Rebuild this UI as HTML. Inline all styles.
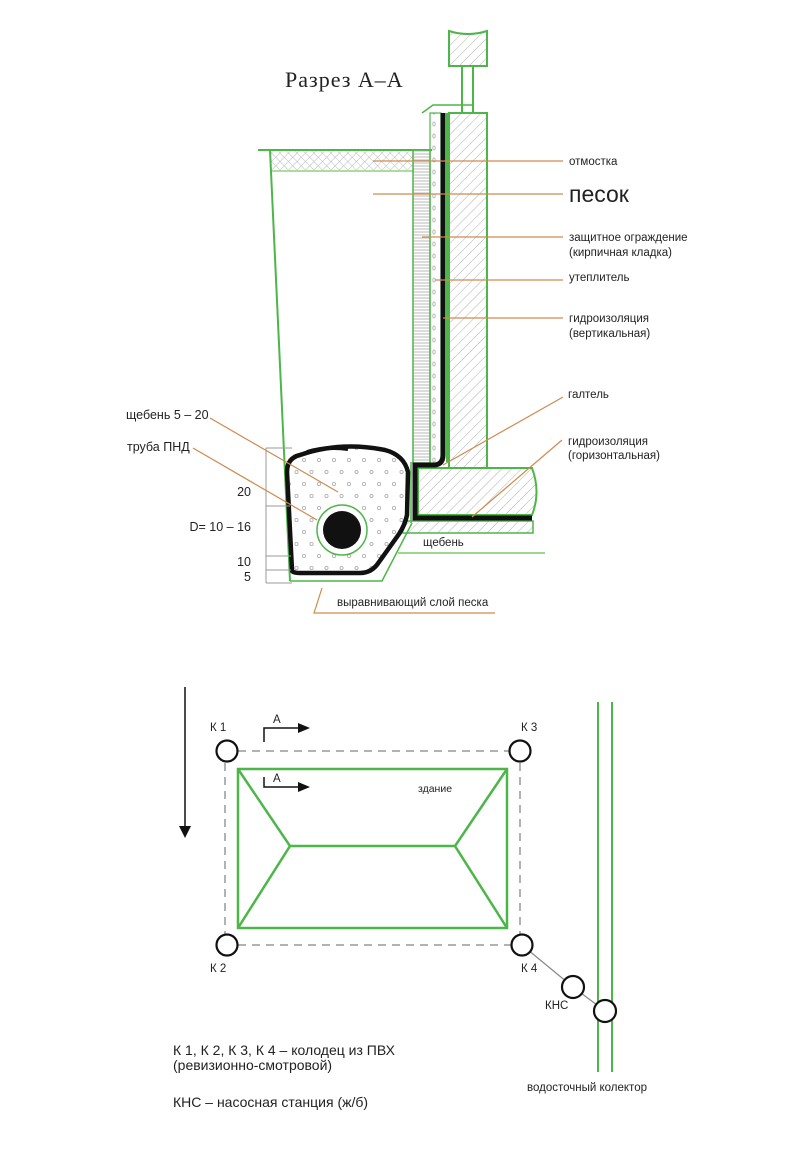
<!DOCTYPE html>
<html><head><meta charset="utf-8"><style>
html,body{margin:0;padding:0;background:#fff;}
svg{display:block;}
text{font-family:"Liberation Sans",sans-serif;fill:#222;}
</style></head><body>
<svg width="800" height="1174" viewBox="0 0 800 1174" xmlns="http://www.w3.org/2000/svg">
<defs>
<pattern id="diag" width="7" height="7" patternUnits="userSpaceOnUse" patternTransform="rotate(45)">
<line x1="0" y1="0" x2="0" y2="7" stroke="#b0b0b0" stroke-width="1"/>
</pattern>
<pattern id="cross" width="6" height="6" patternUnits="userSpaceOnUse" patternTransform="rotate(45)">
<line x1="0" y1="0" x2="0" y2="6" stroke="#bbb" stroke-width="1"/>
<line x1="0" y1="0" x2="6" y2="0" stroke="#bbb" stroke-width="1"/>
</pattern>
<pattern id="horiz" width="6" height="3" patternUnits="userSpaceOnUse">
<line x1="0" y1="1" x2="6" y2="1" stroke="#b8b8b8" stroke-width="1"/>
</pattern>
<pattern id="dots" width="15" height="24" patternUnits="userSpaceOnUse">
<circle cx="4" cy="4" r="1.6" fill="none" stroke="#aaa" stroke-width="0.8"/>
<circle cx="11.5" cy="16" r="1.6" fill="none" stroke="#aaa" stroke-width="0.8"/>
</pattern>
<pattern id="vdots" width="11" height="12" patternUnits="userSpaceOnUse">
<ellipse cx="5" cy="4" rx="1.2" ry="2" fill="none" stroke="#aaa" stroke-width="0.8"/>
</pattern>
</defs>

<!-- Title -->
<text x="285" y="87" style="font-family:'Liberation Serif',serif;font-size:22px;letter-spacing:1px;fill:#222">Разрез А–А</text>

<!-- top block and stems -->
<path d="M449,31 Q468,37 487,31 L487,66 L449,66 Z" fill="url(#diag)" stroke="#4cb648" stroke-width="2"/>
<line x1="462" y1="66" x2="462" y2="113" stroke="#4cb648" stroke-width="2"/>
<line x1="473" y1="66" x2="473" y2="113" stroke="#4cb648" stroke-width="2"/>
<polyline points="422,113 433,105 473,105" fill="none" stroke="#4cb648" stroke-width="1.5"/>

<!-- otmostka -->
<rect x="270" y="151" width="144" height="19" fill="url(#cross)"/>
<line x1="258" y1="150" x2="432" y2="150" stroke="#4cb648" stroke-width="2"/>
<line x1="271" y1="171" x2="414" y2="171" stroke="#8fd27f" stroke-width="1.5"/>

<!-- brick layer -->
<rect x="413" y="150" width="17" height="313" fill="url(#horiz)" stroke="#4cb648" stroke-width="1.5"/>
<!-- insulation dotted layer -->
<rect x="430" y="113" width="11" height="350" fill="url(#vdots)" stroke="#4cb648" stroke-width="1.2"/>
<!-- wall -->
<rect x="449" y="113" width="38" height="355" fill="url(#diag)" stroke="#4cb648" stroke-width="2"/>
<line x1="447" y1="113" x2="447" y2="462" stroke="#4cb648" stroke-width="2"/>

<!-- foundation slab -->
<path d="M418,468 L532,468 Q541,492 532,515 L418,515 Z" fill="url(#diag)" stroke="#4cb648" stroke-width="2"/>
<path d="M407,521 L533,521 L533,533 L402,533 Z" fill="url(#diag)" stroke="#4cb648" stroke-width="1.5"/>
<!-- black waterproofing -->
<path d="M443,113 L443,455 Q443,464 435,465 L415,465 L415,518 L532,518" fill="none" stroke="#111" stroke-width="5"/>
<line x1="411" y1="462" x2="411" y2="523" stroke="#4cb648" stroke-width="1.5"/>

<!-- trench -->
<line x1="270" y1="150" x2="290" y2="581" stroke="#4cb648" stroke-width="2"/>
<polyline points="290,581 382,581 412,523" fill="none" stroke="#4cb648" stroke-width="1.5"/>
<line x1="398" y1="553" x2="545" y2="553" stroke="#7ccc66" stroke-width="1.5"/>

<!-- gravel wrap -->
<path d="M292,570 L287,472 Q287,458 300,455 Q340,441 385,450 Q404,455 408,472 L407,515 Q405,525 399,534 L379,562 Q372,573 360,573 L300,573 Q292,573 292,570 Z" fill="url(#dots)" stroke="#111" stroke-width="4.5"/>
<path d="M307,452 Q327,446 348,449" fill="none" stroke="#111" stroke-width="4"/>
<circle cx="342" cy="530" r="25" fill="#fff" stroke="#4cb648" stroke-width="1.5"/>
<circle cx="342" cy="530" r="19" fill="#111"/>

<!-- dimension lines -->
<g stroke="#999" stroke-width="1">
<line x1="266" y1="448" x2="266" y2="583"/>
<line x1="266" y1="448" x2="292" y2="448"/>
<line x1="266" y1="506" x2="290" y2="506"/>
<line x1="266" y1="556" x2="291" y2="556"/>
<line x1="266" y1="570" x2="291" y2="570"/>
<line x1="266" y1="583" x2="292" y2="583"/>
</g>

<!-- leaders -->
<g stroke="#cf8a4f" stroke-width="1.2" fill="none">
<line x1="373" y1="161" x2="563" y2="161"/>
<line x1="373" y1="194" x2="563" y2="194"/>
<line x1="422" y1="237" x2="563" y2="237"/>
<line x1="435" y1="280" x2="563" y2="280"/>
<line x1="443" y1="318" x2="563" y2="318"/>
<line x1="563" y1="397" x2="443" y2="465"/>
<line x1="562" y1="440" x2="472" y2="517"/>
<line x1="210" y1="418" x2="338" y2="492"/>
<line x1="193" y1="448" x2="317" y2="520"/>
<polyline points="322,588 314,613 495,613"/>
</g>

<!-- right labels -->
<g style="font-size:11.5px">
<text x="569" y="165">отмостка</text>
<text x="569" y="202" style="font-size:23px">песок</text>
<text x="569" y="241">защитное ограждение</text>
<text x="569" y="256">(кирпичная кладка)</text>
<text x="569" y="281">утеплитель</text>
<text x="569" y="322">гидроизоляция</text>
<text x="569" y="337">(вертикальная)</text>
<text x="568" y="398">галтель</text>
<text x="568" y="445">гидроизоляция</text>
<text x="568" y="459">(горизонтальная)</text>
<text x="423" y="546">щебень</text>
<text x="337" y="606">выравнивающий слой песка</text>
</g>
<!-- left labels -->
<g style="font-size:12.5px">
<text x="126" y="419">щебень 5 – 20</text>
<text x="127" y="451">труба ПНД</text>
<text x="251" y="496" text-anchor="end">20</text>
<text x="251" y="531" text-anchor="end">D= 10 – 16</text>
<text x="251" y="566" text-anchor="end">10</text>
<text x="251" y="581" text-anchor="end">5</text>
</g>

<!-- PLAN -->
<line x1="185" y1="687" x2="185" y2="830" stroke="#111" stroke-width="1.5"/>
<polygon points="179,826 191,826 185,838" fill="#111"/>

<g stroke="#999" stroke-width="1.5" stroke-dasharray="8 6" fill="none">
<line x1="238" y1="751" x2="509" y2="751"/>
<line x1="238" y1="945" x2="511" y2="945"/>
<line x1="225" y1="763" x2="225" y2="934"/>
<line x1="520" y1="763" x2="520" y2="934"/>
</g>

<g stroke="#4cb648" stroke-width="2.5" fill="none">
<rect x="238" y="769" width="269" height="159"/>
<polyline points="238,769 290,846 238,928"/>
<polyline points="507,769 455,846 507,928"/>
<line x1="290" y1="846" x2="455" y2="846"/>
</g>

<line x1="522" y1="945" x2="573" y2="987" stroke="#888" stroke-width="1.2"/>
<line x1="573" y1="987" x2="605" y2="1011" stroke="#888" stroke-width="1.2"/>

<line x1="598" y1="702" x2="598" y2="1072" stroke="#4cb648" stroke-width="2"/>
<line x1="612" y1="702" x2="612" y2="1072" stroke="#4cb648" stroke-width="2"/>

<g stroke="#111" stroke-width="2.2" fill="#fff">
<circle cx="227" cy="751" r="10.5"/>
<circle cx="520" cy="751" r="10.5"/>
<circle cx="227" cy="945" r="10.5"/>
<circle cx="522" cy="945" r="10.5"/>
<circle cx="573" cy="987" r="11"/>
<circle cx="605" cy="1011" r="11"/>
</g>

<!-- section arrows -->
<g stroke="#111" stroke-width="1.5" fill="none">
<polyline points="264,742 264,728 300,728"/>
<polyline points="264,777 264,787 300,787"/>
</g>
<polygon points="298,723 310,728 298,733" fill="#111"/>
<polygon points="298,782 310,787 298,792" fill="#111"/>

<g style="font-size:11.5px">
<text x="273" y="723">А</text>
<text x="273" y="782">А</text>
<text x="210" y="731">К 1</text>
<text x="521" y="731">К 3</text>
<text x="210" y="972">К 2</text>
<text x="521" y="972">К 4</text>
<text x="545" y="1009">КНС</text>
<text x="418" y="792" style="font-size:10.5px">здание</text>
<text x="527" y="1091">водосточный колектор</text>
</g>

<g style="font-size:14px">
<text x="173" y="1055">К 1, К 2, К 3, К 4 – колодец из ПВХ</text>
<text x="173" y="1070">(ревизионно-смотровой)</text>
<text x="173" y="1107">КНС – насосная станция (ж/б)</text>
</g>
</svg>
</body></html>
